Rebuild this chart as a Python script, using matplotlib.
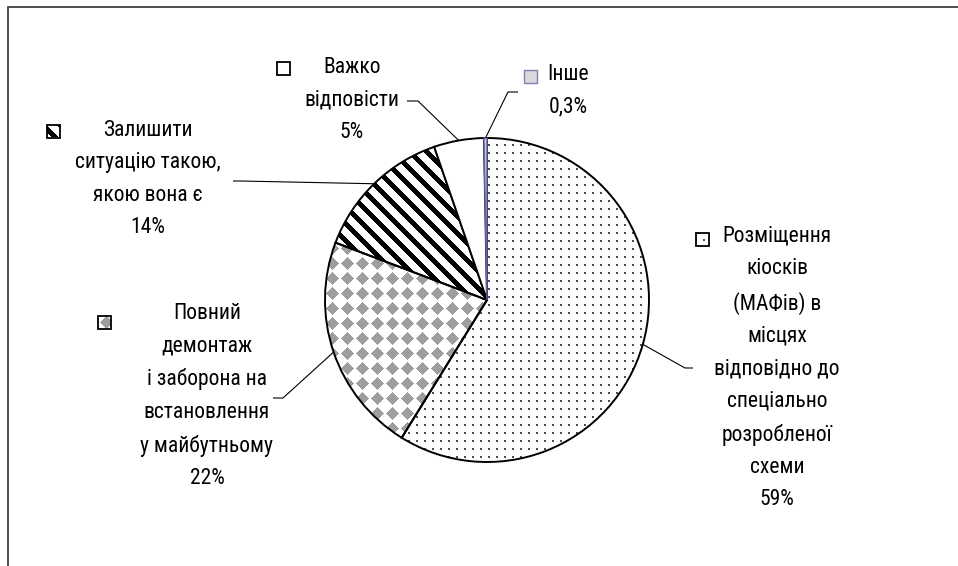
import numpy as np
import matplotlib
matplotlib.use('Agg')
import matplotlib.pyplot as plt
from matplotlib.patches import Rectangle

# ---- data ----
categories = ['Розміщення\nкіосків\n(МАФів) в\nмісцях\nвідповідно до\nспеціально\nрозробленої\nсхеми',
              'Повний\nдемонтаж\nі заборона на\nвстановлення\nу майбутньому',
              'Залишити\nситуацію такою,\nякою вона є',
              'Важко\nвідповісти',
              'Інше']
values = [59, 22, 14, 5, 0.3]
pct_labels = ['59%', '22%', '14%', '5%', '0,3%']

# ---- font ----
plt.rcParams['font.family'] = ['Roboto Condensed', 'Liberation Sans', 'DejaVu Sans']
FS = 15.5

W, H = 958, 566
fig = plt.figure(figsize=(W / 100, H / 100), dpi=100)
ax = fig.add_axes([0, 0, 1, 1])

CX, CY, R = 487, 300, 162
wedges, _ = ax.pie(values, center=(CX, CY), radius=R, startangle=-90, counterclock=True,
                   wedgeprops=dict(edgecolor='black', linewidth=1.4, facecolor='none'))
ax.set_xlim(0, W)
ax.set_ylim(H, 0)
ax.set_aspect('auto')
ax.axis('off')
for w in wedges:
    w.set_zorder(3)
wedges[3].set_facecolor('white')
wedges[4].set_facecolor('#c8c8e6')
wedges[4].set_edgecolor('#6464a8')
wedges[4].set_linewidth(1.0)

# ---- textures ----
yy, xx = np.mgrid[0:H, 0:W]

def texture(mask, on):
    img = np.ones((H, W, 4))
    img[mask] = on
    return img

tex_dots = texture((xx % 8 < 2) & (yy % 8 < 2), (0.3, 0.3, 0.3, 1))
dx = ((xx + 5) % 15) - 7
dy = ((yy - 1) % 15) - 7
tex_diam = texture(np.abs(dx) + np.abs(dy) <= 6, (0.62, 0.62, 0.62, 1))
tex_str = texture(((xx - yy) % 17) < 7, (0, 0, 0, 1))
textures = [tex_dots, tex_diam, tex_str, None, None]

def fill_tex(img, patch):
    if img is None:
        return
    im = ax.imshow(img, extent=(0, W, H, 0), interpolation='nearest', zorder=2, aspect='auto')
    im.set_clip_path(patch)

for w, t in zip(wedges, textures):
    fill_tex(t, w)

# ---- labels ----
text_pos = [(777, 368), (207, 396), (148, 179), (352, 100), (568, 91)]
key_pos = [(703, 239), (105, 322), (54, 131), (284, 68), (531, 76)]
elbows = [[(685, 368), (693, 368)],
          [(283, 398), (273, 398)],
          [(240, 181), (233, 181)],
          [(418, 101), (407, 101)],
          [(508, 92), (518, 92)]]
KS = 13
for i, w in enumerate(wedges):
    tx, ty = text_pos[i]
    ax.text(tx, ty, categories[i] + '\n' + pct_labels[i], ha='center', va='center',
            fontsize=FS, linespacing=1.71, color='black', zorder=5)
    kx, ky = key_pos[i]
    fc = 'white'
    ec = 'black'
    if i == 4:
        fc, ec = '#d9d9d9', '#7f7fb0'
    rect = Rectangle((kx - KS / 2, ky - KS / 2), KS, KS, facecolor=fc if textures[i] is None else 'none',
                     edgecolor=ec, linewidth=1.3 if i != 4 else 1.0, zorder=4)
    ax.add_patch(rect)
    fill_tex(textures[i], rect)
    mid = np.deg2rad((w.theta1 + w.theta2) / 2)
    ex, ey = CX + R * np.cos(mid), CY + R * np.sin(mid)
    pts = [(ex, ey)] + elbows[i]
    ax.plot([p[0] for p in pts], [p[1] for p in pts], color='black', lw=0.8, zorder=4,
            solid_capstyle='butt')

# ---- frame ----
ax.plot([8.5, 8.5, W], [H, 6.5, 6.5], color='#404040', lw=1.3, zorder=6, solid_joinstyle='miter')

fig.savefig('out.png', dpi=100)
